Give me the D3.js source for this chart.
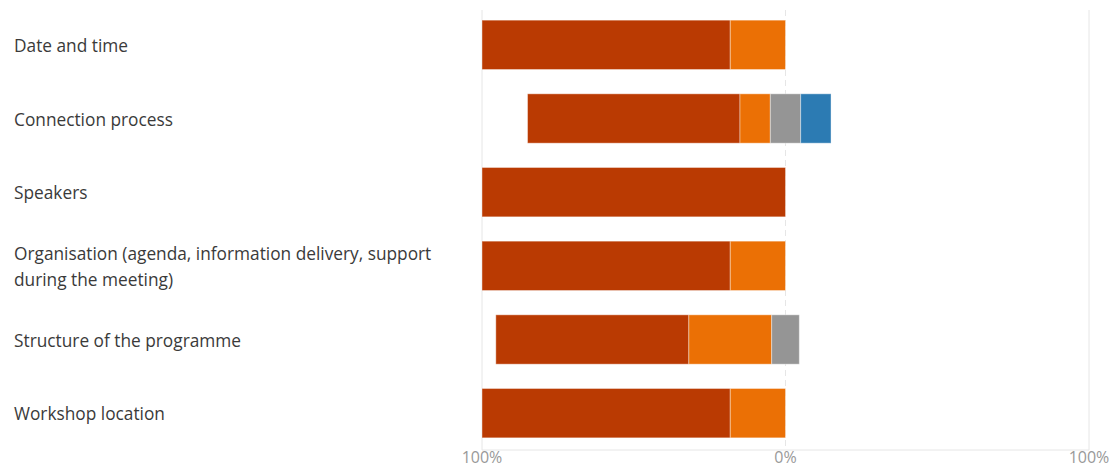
<!DOCTYPE html>
<html>
<head>
<meta charset="utf-8">
<script src="https://cdn.jsdelivr.net/npm/d3@7"></script>
<style>
  body { margin: 0; background: #fff; }
  text { font-family: "Open Sans", "Noto Sans", sans-serif; }
</style>
</head>
<body>
<div id="chart"></div>
<script>
// Questions (rows, top to bottom)
const categories = [
  "Date and time",
  "Connection process",
  "Speakers",
  "Organisation (agenda, information delivery, support during the meeting)",
  "Structure of the programme",
  "Workshop location"
];

// Answer shares per row, in %
const verySatisfied = [81.8, 70, 100, 81.8, 63.6, 81.8];
const satisfied     = [18.2, 10, 0, 18.2, 27.3, 18.2];
const neutral       = [0, 10, 0, 0, 9.1, 0];
const dissatisfied  = [0, 10, 0, 0, 0, 0];

const seriesNames  = ["Very satisfied", "Satisfied", "Neutral", "Dissatisfied"];
const seriesColors = ["#ba3a02", "#eb7005", "#959595", "#2c7bb3"];

const tickValues = [-100, 0, 100];
const tickLabels = ["100%", "0%", "100%"];

const W = 1117, H = 469;
const margin = { top: 10, right: 28, bottom: 19, left: 482 };
const width = W - margin.left - margin.right,
  height = H - margin.top - margin.bottom;

const svg = d3.select("#chart").append("svg")
  .attr("width", W).attr("height", H);
const g = svg.append("g")
  .attr("transform", `translate(${margin.left},${margin.top})`);

const x = d3.scaleLinear().domain([-100, 100]).range([0, width]);
const y = d3.scaleBand().domain(categories).range([-2, height])
  .paddingInner(0.33).paddingOuter(0.165);

// grid lines
g.selectAll(".grid").data(tickValues).join("line")
  .attr("x1", d => x(d)).attr("x2", d => x(d))
  .attr("y1", 0).attr("y2", height)
  .attr("stroke", "#e6e6e6")
  .attr("stroke-dasharray", d => d === 0 ? "6,4" : null);

// bottom axis line
g.append("line")
  .attr("x1", x(-100)).attr("x2", x(100))
  .attr("y1", height).attr("y2", height)
  .attr("stroke", "#e6e6e6");

// tick labels
g.selectAll(".tick").data(tickValues).join("text")
  .attr("x", d => x(d)).attr("y", height + 13)
  .attr("text-anchor", "middle")
  .attr("font-size", 16)
  .attr("fill", "#999")
  .text((d, i) => tickLabels[i]);

// build diverging segments: neutral split across zero
const rows = categories.map((c, i) => {
  const vals = [verySatisfied[i], satisfied[i], neutral[i], dissatisfied[i]];
  let start = -(vals[0] + vals[1] + vals[2] / 2);
  return vals.map((v, k) => {
    const seg = { cat: c, k, x0: start, x1: start + v };
    start += v;
    return seg;
  }).filter(s => s.x1 > s.x0);
});

g.selectAll(".row").data(rows).join("g")
  .selectAll("rect").data(d => d).join("rect")
  .attr("x", d => x(d.x0))
  .attr("y", d => y(d.cat))
  .attr("width", d => x(d.x1) - x(d.x0))
  .attr("height", y.bandwidth())
  .attr("fill", d => seriesColors[d.k])
  .attr("stroke", "#fff")
  .attr("stroke-opacity", 0.4)
  .attr("stroke-width", 1)
  .append("title").text(d => `${seriesNames[d.k]}: ${(d.x1 - d.x0).toFixed(1)}%`);

// category labels, wrapped
const labelWidth = 440;
const labels = svg.append("g");
categories.forEach(c => {
  const t = labels.append("text")
    .attr("x", 14)
    .attr("font-size", 17.3)
    .attr("fill", "#3a3a3a");
  const words = c.split(" ");
  let lines = [], line = [];
  const tmp = t.append("tspan");
  words.forEach(w => {
    line.push(w);
    tmp.text(line.join(" "));
    if (tmp.node().getComputedTextLength() > labelWidth && line.length > 1) {
      line.pop();
      lines.push(line.join(" "));
      line = [w];
    }
  });
  lines.push(line.join(" "));
  tmp.remove();
  const cy = margin.top + y(c) + y.bandwidth() / 2;
  const lh = 26;
  lines.forEach((l, i) => {
    t.append("tspan")
      .attr("x", 14)
      .attr("y", cy + 1 + (i - (lines.length - 1) / 2) * lh)
      .attr("dy", "0.35em")
      .text(l);
  });
});
</script>
</body>
</html>
